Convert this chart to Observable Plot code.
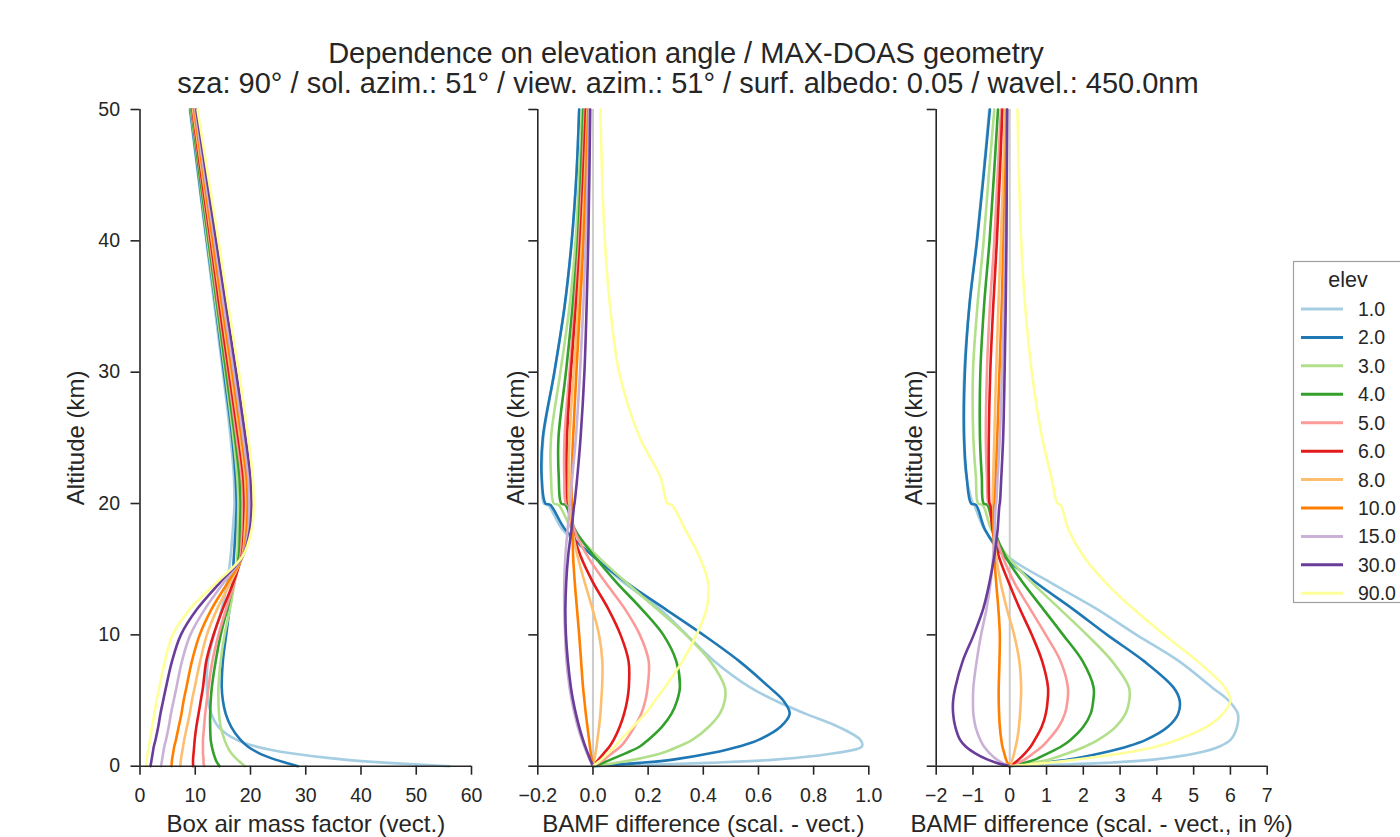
<!DOCTYPE html>
<html><head><meta charset="utf-8">
<script src="https://cdn.jsdelivr.net/npm/d3@7"></script>
<script src="https://cdn.jsdelivr.net/npm/@observablehq/plot@0.6"></script>
<style>
body{margin:0;background:#fff;}
#root{position:relative;width:1400px;height:837px;overflow:hidden;font-family:"Liberation Sans",Arial,sans-serif;color:#262626;}
.abs{position:absolute;left:0;top:0;}
</style></head><body><div id="root"></div>
<script>
const titleLine1 = "Dependence on elevation angle / MAX-DOAS geometry";
const titleLine2 = "sza: 90° / sol. azim.: 51° / view. azim.: 51° / surf. albedo: 0.05 / wavel.: 450.0nm";
const legendTitle = "elev";
const elevs = ["1.0","2.0","3.0","4.0","5.0","6.0","8.0","10.0","15.0","30.0","90.0"];
const colors = ["#a6cee3","#1f78b4","#b2df8a","#33a02c","#fb9a99","#e31a1c","#fdbf6f","#ff7f00","#cab2d6","#6a3d9a","#ffff99"];
const altitudes = [0, 0.25, 0.5, 1, 1.5, 2, 3, 4, 5, 6, 8, 10, 12, 14, 16, 18, 19.9, 20, 22, 25, 30, 35, 40, 45, 50];

// Panel 1: Box air mass factor (vect.), one list per elevation
const bamfVect = [
  [56, 45, 37, 27, 21, 17.5, 14.2, 12.9, 12.3, 12.1, 12.3, 13.4, 14.8, 15.8, 16.4, 16.8, 17.1, 17.1, 17.0, 16.4, 15.0, 13.5, 12.0, 10.5, 9.0],
  [28.6, 26.5, 24.5, 21.5, 19.5, 18.2, 16.5, 15.5, 15.0, 14.8, 15.0, 15.6, 16.2, 16.7, 17.0, 17.3, 17.5, 17.5, 17.3, 16.7, 15.2, 13.7, 12.1, 10.6, 9.1],
  [19.0, 18.3, 17.6, 16.5, 15.8, 15.3, 14.6, 14.3, 14.2, 14.2, 14.6, 15.3, 16.3, 17.1, 17.6, 17.7, 17.8, 17.8, 17.6, 16.9, 15.4, 13.8, 12.2, 10.7, 9.2],
  [14.4, 14.0, 13.7, 13.3, 13.0, 12.8, 12.7, 12.7, 12.8, 13.0, 13.7, 14.6, 15.8, 17.0, 17.9, 18.1, 18.2, 18.2, 18.0, 17.2, 15.6, 14.0, 12.4, 10.8, 9.3],
  [11.6, 11.5, 11.5, 11.4, 11.4, 11.4, 11.6, 11.8, 12.1, 12.4, 13.1, 14.2, 15.6, 17.1, 18.2, 18.5, 18.6, 18.6, 18.4, 17.5, 15.9, 14.2, 12.6, 11.0, 9.4],
  [9.6, 9.6, 9.6, 9.7, 9.8, 9.9, 10.2, 10.6, 11.0, 11.4, 12.0, 13.3, 15.0, 16.9, 18.4, 18.8, 18.9, 18.9, 18.7, 17.8, 16.1, 14.4, 12.8, 11.1, 9.5],
  [7.3, 7.35, 7.4, 7.6, 7.8, 8.0, 8.5, 9.0, 9.4, 9.9, 10.9, 12.1, 14.0, 16.4, 18.5, 19.0, 19.2, 19.2, 19.0, 18.1, 16.4, 14.7, 13.0, 11.3, 9.6],
  [5.7, 5.75, 5.8, 6.0, 6.2, 6.5, 7.0, 7.5, 7.9, 8.4, 9.4, 10.8, 13.0, 15.9, 18.6, 19.3, 19.5, 19.5, 19.3, 18.4, 16.7, 14.9, 13.2, 11.5, 9.8],
  [3.8, 3.9, 4.0, 4.2, 4.4, 4.7, 5.2, 5.6, 6.1, 6.6, 7.6, 9.1, 11.8, 15.2, 18.6, 19.6, 19.8, 19.8, 19.6, 18.7, 17.0, 15.2, 13.5, 11.7, 10.0],
  [1.9, 2.0, 2.1, 2.3, 2.5, 2.8, 3.3, 3.7, 4.2, 4.7, 5.8, 7.4, 10.4, 14.5, 18.6, 19.9, 20.2, 20.2, 20.0, 19.1, 17.4, 15.6, 13.8, 12.0, 10.2],
  [1.1, 1.15, 1.2, 1.4, 1.6, 1.8, 2.2, 2.6, 3.0, 3.5, 4.5, 5.9, 9.1, 13.9, 18.6, 20.2, 20.6, 20.6, 20.4, 19.6, 17.9, 16.0, 14.2, 12.3, 10.4]
];

// Panel 2: BAMF difference (scal. - vect.)
const bamfDiff = [
  [0, 0.42, 0.66, 0.88, 0.975, 0.97, 0.89, 0.77, 0.66, 0.57, 0.44, 0.34, 0.24, 0.11, 0.0, -0.11, -0.163, -0.178, -0.185, -0.18, -0.14, -0.103, -0.077, -0.06, -0.05],
  [0, 0.17, 0.29, 0.43, 0.53, 0.60, 0.68, 0.713, 0.69, 0.64, 0.53, 0.40, 0.26, 0.12, 0.0, -0.10, -0.155, -0.172, -0.186, -0.182, -0.14, -0.103, -0.077, -0.06, -0.05],
  [0, 0.08, 0.15, 0.25, 0.31, 0.36, 0.42, 0.46, 0.478, 0.478, 0.425, 0.337, 0.23, 0.12, 0.016, -0.075, -0.125, -0.142, -0.152, -0.152, -0.118, -0.085, -0.063, -0.05, -0.04],
  [0, 0.035, 0.064, 0.12, 0.17, 0.2, 0.25, 0.285, 0.305, 0.315, 0.302, 0.255, 0.175, 0.085, 0.004, -0.065, -0.1, -0.115, -0.124, -0.125, -0.098, -0.074, -0.055, -0.044, -0.035],
  [0, 0.02, 0.04, 0.07, 0.10, 0.12, 0.15, 0.175, 0.19, 0.198, 0.202, 0.17, 0.115, 0.045, -0.02, -0.068, -0.088, -0.098, -0.104, -0.103, -0.085, -0.066, -0.05, -0.038, -0.03],
  [0, 0.01, 0.02, 0.04, 0.06, 0.075, 0.097, 0.113, 0.124, 0.13, 0.129, 0.10, 0.055, 0.0, -0.045, -0.075, -0.085, -0.09, -0.095, -0.094, -0.08, -0.062, -0.046, -0.035, -0.026],
  [0, 0.002, 0.005, 0.009, 0.013, 0.016, 0.022, 0.027, 0.03, 0.033, 0.034, 0.022, -0.002, -0.03, -0.056, -0.075, -0.083, -0.086, -0.088, -0.085, -0.07, -0.054, -0.04, -0.029, -0.02],
  [0, -0.002, -0.004, -0.008, -0.011, -0.014, -0.02, -0.026, -0.031, -0.036, -0.043, -0.05, -0.058, -0.066, -0.072, -0.074, -0.074, -0.076, -0.077, -0.072, -0.06, -0.047, -0.034, -0.025, -0.017],
  [0, -0.006, -0.012, -0.022, -0.031, -0.04, -0.055, -0.067, -0.077, -0.085, -0.096, -0.101, -0.104, -0.104, -0.1, -0.092, -0.084, -0.083, -0.075, -0.062, -0.047, -0.035, -0.026, -0.019, -0.013],
  [0, -0.005, -0.01, -0.019, -0.028, -0.036, -0.05, -0.062, -0.072, -0.08, -0.091, -0.098, -0.1, -0.097, -0.09, -0.078, -0.068, -0.067, -0.057, -0.045, -0.031, -0.023, -0.017, -0.013, -0.01],
  [0, 0.015, 0.03, 0.055, 0.08, 0.1, 0.145, 0.19, 0.225, 0.26, 0.325, 0.375, 0.412, 0.417, 0.385, 0.335, 0.285, 0.27, 0.245, 0.17, 0.095, 0.062, 0.043, 0.033, 0.027]
];

// Panel 3: BAMF difference (scal. - vect., in %)
const bamfDiffPct = [
  [0, 2.6, 3.9, 5.1, 5.7, 6.0, 6.18, 6.2, 5.95, 5.5, 4.6, 3.45, 2.35, 1.1, -0.07, -0.68, -0.97, -1.0, -1.18, -1.25, -1.24, -1.1, -0.9, -0.72, -0.56],
  [0, 0.9, 1.6, 2.5, 3.2, 3.7, 4.3, 4.58, 4.62, 4.45, 3.65, 2.65, 1.7, 0.7, -0.16, -0.67, -0.92, -1.05, -1.17, -1.24, -1.22, -1.1, -0.89, -0.71, -0.54],
  [0, 0.6, 1.05, 1.6, 2.05, 2.4, 2.88, 3.15, 3.25, 3.24, 2.78, 2.1, 1.35, 0.6, -0.07, -0.5, -0.74, -0.86, -0.92, -0.99, -1.0, -0.88, -0.71, -0.57, -0.42],
  [0, 0.38, 0.68, 1.05, 1.4, 1.65, 2.0, 2.2, 2.27, 2.28, 1.98, 1.45, 0.9, 0.35, -0.12, -0.43, -0.61, -0.71, -0.76, -0.81, -0.8, -0.7, -0.55, -0.43, -0.32],
  [0, 0.22, 0.4, 0.65, 0.88, 1.05, 1.33, 1.5, 1.57, 1.58, 1.38, 0.98, 0.55, 0.12, -0.2, -0.43, -0.54, -0.58, -0.62, -0.65, -0.62, -0.54, -0.42, -0.33, -0.24],
  [0, 0.13, 0.24, 0.42, 0.57, 0.68, 0.87, 0.98, 1.03, 1.04, 0.88, 0.6, 0.27, -0.03, -0.3, -0.47, -0.53, -0.55, -0.57, -0.57, -0.53, -0.45, -0.35, -0.27, -0.2],
  [0, 0.04, 0.07, 0.12, 0.16, 0.2, 0.25, 0.28, 0.3, 0.31, 0.26, 0.12, -0.08, -0.25, -0.37, -0.43, -0.45, -0.46, -0.45, -0.42, -0.37, -0.31, -0.24, -0.18, -0.13],
  [0, -0.06, -0.1, -0.15, -0.2, -0.23, -0.27, -0.29, -0.3, -0.3, -0.28, -0.27, -0.31, -0.37, -0.42, -0.44, -0.42, -0.41, -0.38, -0.34, -0.28, -0.22, -0.17, -0.12, -0.08],
  [0, -0.2, -0.35, -0.55, -0.7, -0.8, -0.93, -0.99, -1.0, -0.99, -0.9, -0.78, -0.63, -0.52, -0.45, -0.41, -0.38, -0.37, -0.33, -0.27, -0.21, -0.16, -0.12, -0.09, -0.07],
  [0, -0.35, -0.6, -0.95, -1.2, -1.35, -1.48, -1.54, -1.54, -1.48, -1.28, -0.98, -0.72, -0.55, -0.42, -0.33, -0.28, -0.27, -0.23, -0.18, -0.14, -0.11, -0.09, -0.08, -0.07],
  [0, 1.0, 1.8, 3.1, 4.0, 4.55, 5.35, 5.8, 6.0, 5.85, 5.1, 4.2, 3.35, 2.6, 2.0, 1.6, 1.38, 1.3, 1.13, 0.88, 0.6, 0.42, 0.31, 0.25, 0.21]
];

const yTicks = [0, 10, 20, 30, 40, 50];
const xTicks1 = [0, 10, 20, 30, 40, 50, 60];
const xTicks2 = [-0.2, 0.0, 0.2, 0.4, 0.6, 0.8, 1.0];
const xTicks3 = [-2, -1, 0, 1, 2, 3, 4, 5, 6, 7];
const xLabel1 = "Box air mass factor (vect.)";
const xLabel2 = "BAMF difference (scal. - vect.)";
const xLabel3 = "BAMF difference (scal. - vect., in %)";
const yLabel = "Altitude (km)";

const INK = "#262626";
const FONT = "Liberation Sans, Arial, sans-serif";

function tidy(values) {
  const rows = [];
  values.forEach((arr, i) => arr.forEach((v, j) => rows.push({elev: elevs[i], alt: altitudes[j], v})));
  return rows;
}

function panel(cfg) {
  const data = tidy(cfg.values);
  const marks = [];
  if (cfg.zero) marks.push(Plot.ruleX([0], {stroke: "#cccccc", strokeWidth: 2}));
  marks.push(Plot.line(data, {x: "v", y: "alt", z: "elev", stroke: "elev", strokeWidth: 2.6, curve: "catmull-rom"}));
  marks.push(Plot.axisX({ticks: cfg.xTicks, tickSize: 9, tickPadding: 13, fontSize: 19.5, tickFormat: cfg.xFormat, label: null, strokeWidth: 1.6}));
  marks.push(Plot.axisY({ticks: yTicks, tickSize: 9, tickPadding: 11, fontSize: 19.5, tickFormat: cfg.yLabels ? (d => String(d)) : (() => ""), label: null, strokeWidth: 1.6}));
  marks.push(Plot.ruleY([0], {stroke: INK, strokeWidth: 1.6}));
  marks.push(Plot.ruleX([cfg.xDomain[0]], {stroke: INK, strokeWidth: 1.6}));
  marks.push(Plot.text([cfg.xLabel], {frameAnchor: "bottom", lineAnchor: "middle", textAnchor: "middle", dy: 58.5, fontSize: 24, text: d => d, fill: INK}));
  marks.push(Plot.text([yLabel], {frameAnchor: "left", lineAnchor: "middle", textAnchor: "middle", dx: cfg.yLabelDx, rotate: -90, fontSize: 24, text: d => d, fill: INK}));
  const chart = Plot.plot({
    width: cfg.width,
    height: 837,
    marginTop: 109,
    marginBottom: 71.3,
    marginLeft: cfg.mL,
    marginRight: cfg.mR,
    x: {domain: cfg.xDomain},
    y: {domain: [0, 50]},
    color: {domain: elevs, range: colors},
    style: {fontFamily: FONT, color: INK, background: "transparent", overflow: "visible"},
    marks
  });
  chart.classList.add("abs");
  chart.style.left = cfg.left + "px";
  return chart;
}

const root = document.getElementById("root");
const f1 = d3.format(".1f");
root.appendChild(panel({values: bamfVect, xDomain: [0, 60], xTicks: xTicks1, xFormat: d => String(d), yLabels: true,
  zero: false, left: 0, width: 500, mL: 139.5, mR: 29, xLabel: xLabel1, yLabelDx: -64}));
root.appendChild(panel({values: bamfDiff, xDomain: [-0.2, 1.0], xTicks: xTicks2, xFormat: d => f1(d), yLabels: false,
  zero: true, left: 500, width: 400, mL: 37.3, mR: 31.7, xLabel: xLabel2, yLabelDx: -21.5}));
root.appendChild(panel({values: bamfDiffPct, xDomain: [-2, 7], xTicks: xTicks3, xFormat: d => d3.format("d")(d), yLabels: false,
  zero: true, left: 900, width: 400, mL: 35.7, mR: 33.3, xLabel: xLabel3, yLabelDx: -22}));

// Titles and legend overlay
const over = d3.select(root).append("svg").attr("class", "abs").attr("width", 1400).attr("height", 837)
  .style("pointer-events", "none").style("font-family", FONT);
over.append("text").attr("x", 686).attr("y", 62.5).attr("text-anchor", "middle").attr("font-size", 29).attr("fill", INK).text(titleLine1);
over.append("text").attr("x", 688).attr("y", 93).attr("text-anchor", "middle").attr("font-size", 29).attr("fill", INK).text(titleLine2);

const lg = over.append("g");
lg.append("rect").attr("x", 1293.5).attr("y", 261.5).attr("width", 130).attr("height", 341).attr("fill", "#fff").attr("stroke", "#a0a0a0").attr("stroke-width", 1.2);
lg.append("text").attr("x", 1348).attr("y", 287).attr("text-anchor", "middle").attr("font-size", 21.5).attr("fill", INK).text(legendTitle);
elevs.forEach((e, i) => {
  const cy = 309 + i * 28.43;
  lg.append("line").attr("x1", 1301).attr("x2", 1343).attr("y1", cy).attr("y2", cy).attr("stroke", colors[i]).attr("stroke-width", 3);
  lg.append("text").attr("x", 1358).attr("y", cy + 7).attr("font-size", 19.5).attr("fill", INK).text(e);
});
</script></body></html>
